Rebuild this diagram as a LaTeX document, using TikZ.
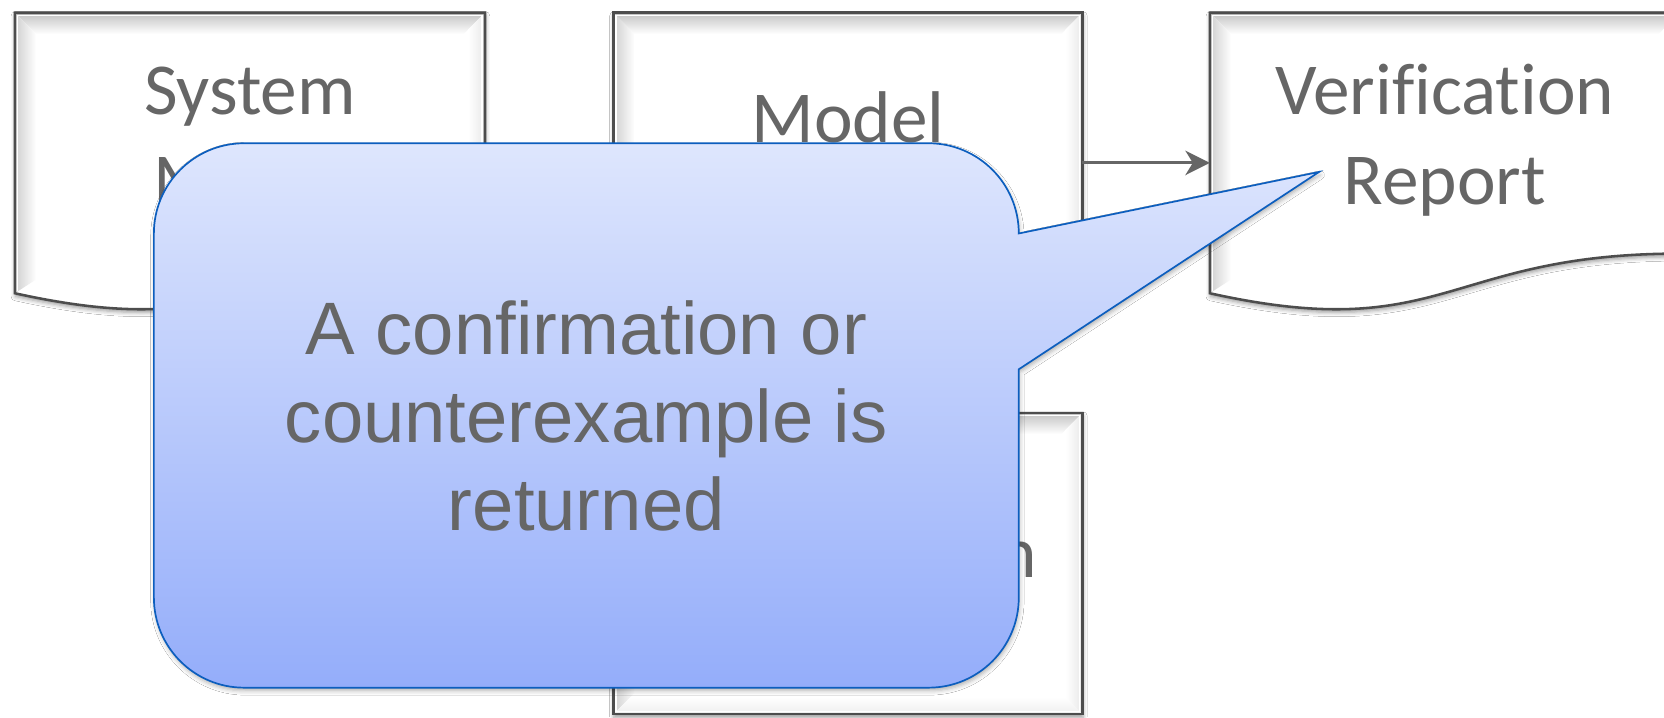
\documentclass[tikz,border=0pt]{standalone}
\usepackage{fontspec}
\newfontfamily\boxfont[Ligatures=NoCommon]{Carlito}
\newfontfamily\calloutfont{Liberation Sans}
\usetikzlibrary{arrows.meta,shadows.blur}

\definecolor{inkgray}{HTML}{666666}
\definecolor{edgegray}{HTML}{4D4D4D}
\definecolor{arrowgray}{HTML}{666666}
\definecolor{callouttop}{RGB}{222,230,253}
\definecolor{calloutbottom}{RGB}{148,173,250}
\definecolor{calloutedge}{RGB}{12,94,190}

\tikzset{
  boxshadow/.style={blur shadow={shadow xshift=0.5pt, shadow yshift=-3pt,
      shadow blur radius=4pt, shadow opacity=40}},
  boxedge/.style={draw=edgegray, line width=2.4pt},
  boxtext/.style={font=\boxfont\fontsize{69pt}{85pt}\selectfont, text=inkgray,
      align=center, inner sep=0pt, anchor=base},
  frame/.style={draw=none, fill=none, inner sep=0pt, outer sep=0pt},
  flowarrow/.style={draw=arrowgray, line width=2.7pt,
      -{Stealth[length=23pt, width=23pt, inset=7pt]}},
  callout/.style={draw=calloutedge, line width=1.6pt,
      top color=callouttop, bottom color=calloutbottom,
      blur shadow={shadow xshift=1pt, shadow yshift=-3pt,
      shadow blur radius=4pt, shadow opacity=30}},
  callouttext/.style={font=\calloutfont\fontsize{70pt}{83pt}\selectfont,
      text=inkgray, align=center, inner sep=0pt, anchor=base}
}

% bevelled process box: #1 left, #2 top, #3 width, #4 height
\newcommand{\procshape}[4]{%
  \fill[white, boxshadow] (#1,#2) rectangle ++(#3,#4);
  \shade[top color=gray!48, bottom color=white]
    (#1,#2) -- ++(#3,0) -- ++(-20,20) -- ({#1+20},{#2+20}) -- cycle;
  \shade[left color=gray!38, right color=white]
    (#1,#2) -- ++(20,20) -- ({#1+20},{#2+#4-20}) -- (#1,{#2+#4}) -- cycle;
  \shade[left color=white, right color=gray!18]
    ({#1+#3},#2) -- ({#1+#3},{#2+#4}) -- ({#1+#3-16},{#2+#4-16}) -- ({#1+#3-16},{#2+16}) -- cycle;
  \shade[top color=white, bottom color=gray!14]
    (#1,{#2+#4}) -- ({#1+#3},{#2+#4}) -- ({#1+#3-16},{#2+#4-16}) -- ({#1+16},{#2+#4-16}) -- cycle;
  \draw[white, line width=1.4pt] ({#1+2.6},{#2+2.6}) rectangle ({#1+#3-2.6},{#2+#4-2.6});
  \draw[boxedge] (#1,#2) rectangle ++(#3,#4);
}

% bevelled document box with a wavy lower edge: #1 left, #2 top, #3 width, #4 height
\newcommand{\docshape}[4]{%
  \fill[white, boxshadow] (#1,#2) -- ({#1+#3},#2) -- ({#1+#3},{#2+0.802*#4})
    .. controls ({#1+0.5*#3},{#2+0.802*#4}) and ({#1+0.5*#3},{#2+1.1075*#4}) ..
    (#1,{#2+0.934*#4}) -- cycle;
  \shade[top color=gray!48, bottom color=white]
    (#1,#2) -- ++(#3,0) -- ++(-20,20) -- ({#1+20},{#2+20}) -- cycle;
  \shade[left color=gray!38, right color=white]
    (#1,#2) -- ++(20,20) -- ({#1+20},{#2+0.934*#4-13}) -- (#1,{#2+0.934*#4}) -- cycle;
  \shade[left color=white, right color=gray!18]
    ({#1+#3},#2) -- ({#1+#3},{#2+0.802*#4}) -- ({#1+#3-16},{#2+0.802*#4-10}) -- ({#1+#3-16},{#2+16}) -- cycle;
  \draw[white, line width=1.4pt] ({#1+2.6},{#2+0.934*#4-2}) -- ({#1+2.6},{#2+2.6})
    -- ({#1+#3-2.6},{#2+2.6}) -- ({#1+#3-2.6},{#2+0.802*#4-2});
  \draw[boxedge] (#1,#2) -- ({#1+#3},#2) -- ({#1+#3},{#2+0.802*#4})
    .. controls ({#1+0.5*#3},{#2+0.802*#4}) and ({#1+0.5*#3},{#2+1.1075*#4}) ..
    (#1,{#2+0.934*#4}) -- cycle;
}

\begin{document}
\begin{tikzpicture}[x=1pt, y=-1pt]
  \useasboundingbox (0,0) rectangle (1568,676);
  \clip (0,0) rectangle (1568,676);
  \fill[white] (0,0) rectangle (1568,676);

  % the four stages
  \docshape{14}{12}{443}{283}
  \procshape{578}{12}{442}{283}
  \docshape{1140}{12}{443}{283}
  \procshape{578}{389}{442}{284}

  % outlines used by the connector
  \node[frame, minimum width=443pt, minimum height=283pt] (system) at (235.5,153.5) {};
  \node[frame, minimum width=442pt, minimum height=283pt] (checker) at (799,153.5) {};
  \node[frame, minimum width=443pt, minimum height=283pt] (report) at (1361.5,153.5) {};
  \node[frame, minimum width=442pt, minimum height=284pt] (spec) at (799,531) {};

  \draw[flowarrow] (checker.east) -- (checker.east -| report.west);

  % labels (anchored on the baseline of their last line)
  \node[boxtext] (systemlabel) at (235.5,193) {System\\Model};
  \node[boxtext] (checkerlabel) at (799,219) {Model\\Checker};
  \node[boxtext] (reportlabel) at (1361.5,193) {Verification\\Report};
  \node[boxtext] (speclabel) at (799,544) {Specification};

  % speech bubble pointing at the report
  \path[callout] (960,348) -- (960,563)
    .. controls (960,609.9) and (921.9,648) .. (875,648) -- (230,648)
    .. controls (183.1,648) and (145,609.9) .. (145,563) -- (145,220)
    .. controls (145,173.1) and (183.1,135) .. (230,135) -- (875,135)
    .. controls (921.9,135) and (960,173.1) .. (960,220) -- (1243,162) -- cycle;
  \node[callouttext] (note) at (552.5,500)
    {A confirmation or\\counterexample is\\returned};
\end{tikzpicture}
\end{document}
